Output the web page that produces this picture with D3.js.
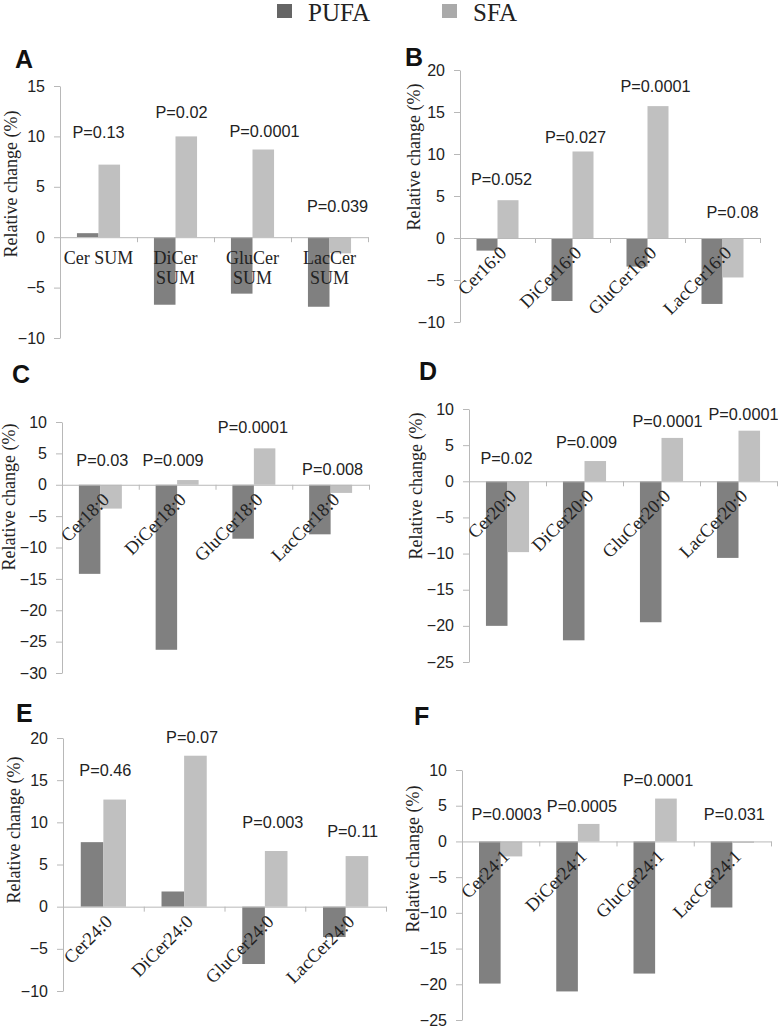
<!DOCTYPE html>
<html><head><meta charset="utf-8">
<script src="https://cdn.jsdelivr.net/npm/d3@7"></script>
<style>body{margin:0;background:#fff}svg{display:block}</style>
</head><body>
<svg id="chart" width="778" height="1028"></svg>
<script>
// ---------- DATA ----------
const series = ['PUFA', 'SFA'];
const catsA = ['Cer SUM', 'DiCer SUM', 'GluCer SUM', 'LacCer SUM'];
const catsB = ['Cer16:0', 'DiCer16:0', 'GluCer16:0', 'LacCer16:0'];
const catsC = ['Cer18:0', 'DiCer18:0', 'GluCer18:0', 'LacCer18:0'];
const catsD = ['Cer20:0', 'DiCer20:0', 'GluCer20:0', 'LacCer20:0'];
const catsE = ['Cer24:0', 'DiCer24:0', 'GluCer24:0', 'LacCer24:0'];
const catsF = ['Cer24:1', 'DiCer24:1', 'GluCer24:1', 'LacCer24:1'];

const pufaA = [0.4, -6.7, -5.6, -6.9];
const sfaA  = [7.2, 10.0, 8.7, -1.6];
const pufaB = [-1.5, -7.5, -3.4, -7.85];
const sfaB  = [4.5, 10.3, 15.7, -4.7];
const pufaC = [-14.2, -26.3, -8.6, -7.9];
const sfaC  = [-3.8, 0.75, 5.8, -1.3];
const pufaD = [-20.0, -22.0, -19.5, -10.6];
const sfaD  = [-9.8, 2.8, 6.0, 7.0];
const pufaE = [7.65, 1.8, -6.8, -3.6];
const sfaE  = [12.7, 17.9, 6.6, 6.0];
const pufaF = [-19.9, -21.0, -18.5, -9.25];
const sfaF  = [-2.1, 2.45, 6.0, -0.2];

const pA = ['P=0.13', 'P=0.02', 'P=0.0001', 'P=0.039'];
const pB = ['P=0.052', 'P=0.027', 'P=0.0001', 'P=0.08'];
const pC = ['P=0.03', 'P=0.009', 'P=0.0001', 'P=0.008'];
const pD = ['P=0.02', 'P=0.009', 'P=0.0001', 'P=0.0001'];
const pE = ['P=0.46', 'P=0.07', 'P=0.003', 'P=0.11'];
const pF = ['P=0.0003', 'P=0.0005', 'P=0.0001', 'P=0.031'];

const ticksA = [-10, -5, 0, 5, 10, 15];
const ticksB = [-10, -5, 0, 5, 10, 15, 20];
const ticksC = [-30, -25, -20, -15, -10, -5, 0, 5, 10];
const ticksD = [-25, -20, -15, -10, -5, 0, 5, 10];
const ticksE = [-10, -5, 0, 5, 10, 15, 20];
const ticksF = [-25, -20, -15, -10, -5, 0, 5, 10];

const yTitle = 'Relative change (%)';

// ---------- LAYOUT ----------
const colors = {PUFA: '#808080', SFA: '#c0c0c0'};
const legendColors = {PUFA: '#656565', SFA: '#aaaaaa'};
const layout = [
  {id:'A', cats:catsA, pufa:pufaA, sfa:sfaA, p:pA, ticks:ticksA, x0:60, x1:368, yT:86, yB:338,
   letter:[15,68], title:[11,184], pY:[10.4,12.4,10.5,3.1], pDx:[0,6,12,8], wrap:true},
  {id:'B', cats:catsB, pufa:pufaB, sfa:sfaB, p:pB, ticks:ticksB, x0:460, x1:760, yT:70, yB:322,
   letter:[405,66], title:[414,157], pY:[7.0,12.0,18.1,3.1], pDx:[4,3,8,10]},
  {id:'C', cats:catsC, pufa:pufaC, sfa:sfaC, p:pC, ticks:ticksC, x0:62, x1:369, yT:422, yB:673,
   letter:[12,383], title:[9,497], pY:[4.0,4.0,9.2,2.5], pDx:[2,-4,-1,2]},
  {id:'D', cats:catsD, pufa:pufaD, sfa:sfaD, p:pD, ticks:ticksD, x0:469, x1:777, yT:409, yB:662,
   letter:[419,380], title:[416,486], pY:[3.2,5.5,8.3,9.3], pDx:[-1,2,6,5]},
  {id:'E', cats:catsE, pufa:pufaE, sfa:sfaE, p:pE, ticks:ticksE, x0:63, x1:386, yT:738, yB:991,
   letter:[16,722], title:[14,830], pY:[16.2,20.1,10.0,9.0], pDx:[2,8,8,7]},
  {id:'F', cats:catsF, pufa:pufaF, sfa:sfaF, p:pF, ticks:ticksF, x0:462, x1:771, yT:770, yB:1020,
   letter:[414,725], title:[413,859], pY:[3.9,5.0,8.6,3.9], pDx:[6,4,3,2]}
];

const svg = d3.select('#chart');
const serif = '"Liberation Serif", "Times New Roman", serif';
const sans = '"Liberation Sans", Arial, sans-serif';

// Legend
const legX = d3.scalePoint().domain(series).range([277, 442]);
const leg = svg.append('g');
series.forEach(s => {
  leg.append('rect').attr('x', legX(s)).attr('y', 4).attr('width', 15).attr('height', 14)
    .attr('fill', legendColors[s]);
  leg.append('text').attr('x', legX(s) + 31).attr('y', 21).text(s)
    .attr('font-family', serif).attr('font-size', 25).attr('fill', '#222');
});

layout.forEach(L => {
  const g = svg.append('g');
  const dom = [d3.min(L.ticks), d3.max(L.ticks)];
  const y = d3.scaleLinear().domain(dom).range([L.yB, L.yT]);
  const x = d3.scaleBand().domain(L.cats).range([L.x0, L.x1]).paddingInner(0).paddingOuter(0);
  const bw = x.bandwidth();
  const xs = d3.scaleBand().domain(series).range([bw * 0.22, bw * 0.78]).padding(0);

  // Panel letter
  g.append('text').attr('x', L.letter[0]).attr('y', L.letter[1]).text(L.id)
    .attr('font-family', sans).attr('font-weight', 'bold').attr('font-size', 25).attr('fill', '#111');

  // Y axis title
  g.append('text').attr('transform', `translate(${L.title[0]},${L.title[1]}) rotate(-90)`)
    .attr('text-anchor', 'middle').attr('dominant-baseline', 'central')
    .style('font-family', serif).attr('font-size', 18).attr('fill', '#222').text(yTitle);

  // Y axis
  const ya = g.append('g').attr('transform', `translate(${L.x0},0)`)
    .call(d3.axisLeft(y).tickValues(L.ticks).tickSize(6).tickSizeOuter(0).tickPadding(9).tickFormat(d3.format('d')));
  ya.select('.domain').attr('stroke', '#b8b8b8');
  ya.selectAll('.tick line').attr('stroke', '#b8b8b8');
  ya.selectAll('.tick text').attr('font-family', sans).attr('font-size', 16).attr('fill', '#222');

  // Bars
  const rows = L.cats.map((c, i) => ({cat: c, vals: [{s: 'PUFA', v: L.pufa[i]}, {s: 'SFA', v: L.sfa[i]}]}));
  const grp = g.selectAll('g.grp').data(rows).join('g').attr('class', 'grp')
    .attr('transform', d => `translate(${x(d.cat)},0)`);
  grp.selectAll('rect').data(d => d.vals).join('rect')
    .attr('x', d => xs(d.s)).attr('width', xs.bandwidth())
    .attr('y', d => y(Math.max(0, d.v))).attr('height', d => Math.abs(y(d.v) - y(0)))
    .attr('fill', d => colors[d.s]);

  // X axis line with group ticks
  const xa = g.append('g').attr('transform', `translate(0,${y(0)})`)
    .call(d3.axisBottom(d3.scaleLinear().domain([0, L.cats.length]).range([L.x0, L.x1]))
      .tickValues(d3.range(1, L.cats.length + 1)).tickSize(5).tickSizeOuter(0).tickFormat(''));
  xa.select('.domain').attr('stroke', '#b8b8b8');
  xa.selectAll('.tick line').attr('stroke', '#b8b8b8');

  // Category labels
  if (L.wrap) {
    L.cats.forEach(c => {
      const lines = c.length > 7 ? c.split(' ') : [c];
      const t = g.append('text').attr('text-anchor', 'middle')
        .attr('font-family', serif).attr('font-size', 18).attr('fill', '#222');
      lines.forEach((ln, k) => t.append('tspan').attr('x', x(c) + bw / 2)
        .attr('y', y(0) + 27 + k * 20).text(ln));
    });
  } else {
    L.cats.forEach(c => {
      g.append('text').attr('text-anchor', 'end')
        .attr('transform', `translate(${x(c) + bw / 2 + 10},${y(0) + 16}) rotate(-45)`)
        .attr('font-family', serif).attr('font-size', 18.5).attr('fill', '#222').text(c);
    });
  }

  // P value labels
  L.cats.forEach((c, i) => {
    g.append('text').attr('x', x(c) + bw / 2 + L.pDx[i]).attr('y', y(L.pY[i]))
      .attr('text-anchor', 'middle').attr('dominant-baseline', 'central')
      .attr('font-family', sans).attr('font-size', 16.3).attr('fill', '#222').text(L.p[i]);
  });
});
</script>
</body></html>
